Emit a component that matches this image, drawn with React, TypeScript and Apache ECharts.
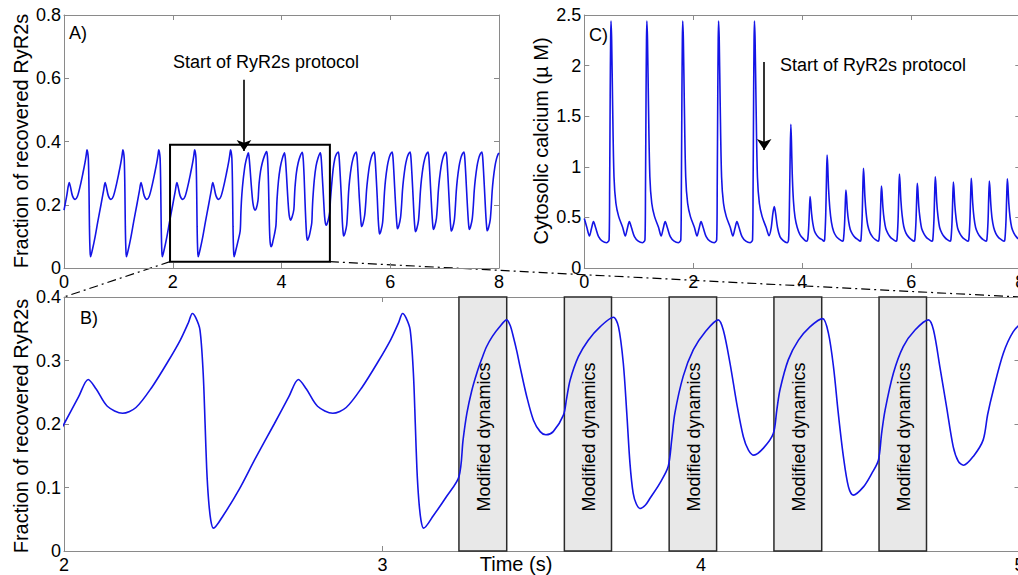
import React, { useEffect, useRef } from "react";
import * as echarts from "echarts";

// ---------------- DATA ----------------
// Fraction of recovered RyR2s, time (s) vs value, before the protocol starts
const ryr2BeforeProtocol: [number, number][] = [
  [0.0, 0.183], [0.05, 0.228],
  [0.096, 0.27], [0.121, 0.255], [0.156, 0.228], [0.204, 0.217], [0.246, 0.226], [0.296, 0.258], [0.346, 0.298], [0.386, 0.333], [0.411, 0.36], [0.423, 0.374], [0.434, 0.367], [0.447, 0.348], [0.457, 0.28], [0.463, 0.2], [0.468, 0.13], [0.474, 0.08], [0.481, 0.048], [0.489, 0.036], [0.52, 0.056], [0.57, 0.097], [0.62, 0.145], [0.68, 0.2], [0.726, 0.243],
  [0.756, 0.27], [0.781, 0.255], [0.816, 0.228], [0.864, 0.217], [0.906, 0.226], [0.956, 0.258], [1.006, 0.298], [1.046, 0.333], [1.071, 0.36], [1.083, 0.374], [1.094, 0.367], [1.107, 0.348], [1.117, 0.28], [1.123, 0.2], [1.128, 0.13], [1.134, 0.08], [1.141, 0.048], [1.149, 0.036], [1.18, 0.056], [1.23, 0.097], [1.28, 0.145], [1.34, 0.2], [1.386, 0.243],
  [1.416, 0.27], [1.441, 0.255], [1.476, 0.228], [1.524, 0.217], [1.566, 0.226], [1.616, 0.258], [1.666, 0.298], [1.706, 0.333], [1.731, 0.36], [1.743, 0.374], [1.754, 0.367], [1.767, 0.348], [1.777, 0.28], [1.783, 0.2], [1.788, 0.13], [1.794, 0.08], [1.801, 0.048], [1.809, 0.036], [1.84, 0.056], [1.89, 0.097], [1.94, 0.145], [2.0, 0.2], [2.046, 0.243],
  [2.076, 0.27], [2.101, 0.255], [2.136, 0.228], [2.184, 0.217], [2.226, 0.226], [2.276, 0.258], [2.326, 0.298], [2.366, 0.333], [2.391, 0.36], [2.403, 0.374], [2.414, 0.367], [2.427, 0.348], [2.437, 0.28], [2.443, 0.2], [2.448, 0.13], [2.454, 0.08], [2.461, 0.048], [2.469, 0.036], [2.5, 0.056], [2.55, 0.097], [2.6, 0.145], [2.66, 0.2], [2.706, 0.243],
  [2.736, 0.27], [2.761, 0.255], [2.796, 0.228], [2.844, 0.217], [2.886, 0.226], [2.936, 0.258], [2.986, 0.298], [3.026, 0.333], [3.051, 0.36], [3.063, 0.374], [3.074, 0.367], [3.087, 0.348], [3.097, 0.28], [3.103, 0.2], [3.108, 0.13], [3.114, 0.08], [3.121, 0.048], [3.129, 0.036], [3.16, 0.056], [3.2, 0.085], [3.24, 0.117],
];

// RyR2s while the modified dynamics windows are applied (shown in panel B)
const ryr2DuringProtocol: [number, number][] = [
  [3.253, 0.175], [3.265, 0.217], [3.28, 0.252], [3.296, 0.28], [3.312, 0.303], [3.327, 0.322], [3.345, 0.338], [3.366, 0.352], [3.39, 0.364], [3.401, 0.355], [3.411, 0.337], [3.422, 0.314], [3.432, 0.29], [3.453, 0.243], [3.474, 0.206], [3.495, 0.188], [3.513, 0.183], [3.536, 0.188], [3.568, 0.214],
  [3.578, 0.24], [3.589, 0.269], [3.615, 0.306], [3.646, 0.332], [3.683, 0.353], [3.725, 0.368], [3.741, 0.353], [3.756, 0.296], [3.767, 0.217], [3.777, 0.138], [3.787, 0.091], [3.797, 0.074], [3.809, 0.067], [3.825, 0.072], [3.84, 0.083], [3.871, 0.107], [3.897, 0.133],
  [3.908, 0.175], [3.918, 0.217], [3.944, 0.275], [3.976, 0.317], [4.013, 0.345], [4.054, 0.364], [4.07, 0.348], [4.091, 0.296], [4.112, 0.233], [4.133, 0.18], [4.149, 0.159], [4.166, 0.151], [4.196, 0.162], [4.227, 0.185],
  [4.238, 0.222], [4.248, 0.254], [4.274, 0.301], [4.306, 0.332], [4.342, 0.353], [4.382, 0.366], [4.4, 0.343], [4.416, 0.29], [4.431, 0.217], [4.447, 0.149], [4.463, 0.101], [4.478, 0.088], [4.51, 0.101], [4.536, 0.122], [4.557, 0.143],
  [4.567, 0.185], [4.578, 0.222], [4.604, 0.28], [4.635, 0.322], [4.672, 0.348], [4.714, 0.364], [4.73, 0.348], [4.75, 0.29], [4.771, 0.227], [4.792, 0.164], [4.808, 0.141], [4.824, 0.135], [4.855, 0.149], [4.886, 0.175], [4.9, 0.215], [4.918, 0.254], [4.949, 0.311], [4.98, 0.345], [5.01, 0.36], [5.044, 0.367],
];

// RyR2s in the new steady oscillation (panel A, right part)
const ryr2AfterProtocol: [number, number][] = [
  [5.06, 0.35], [5.08, 0.292], [5.101, 0.222], [5.119, 0.146], [5.134, 0.111], [5.144, 0.101], [5.169, 0.111], [5.199, 0.136], [5.219, 0.19], [5.234, 0.24], [5.254, 0.28], [5.284, 0.32], [5.314, 0.345], [5.344, 0.36], [5.374, 0.367],
  [5.39, 0.35], [5.41, 0.292], [5.431, 0.222], [5.449, 0.176], [5.464, 0.141], [5.474, 0.131], [5.499, 0.141], [5.529, 0.166], [5.549, 0.205], [5.564, 0.245], [5.584, 0.28], [5.614, 0.32], [5.644, 0.345], [5.674, 0.36], [5.704, 0.367],
  [5.72, 0.35], [5.74, 0.292], [5.761, 0.222], [5.779, 0.153], [5.794, 0.118], [5.804, 0.108], [5.829, 0.118], [5.859, 0.143], [5.879, 0.195], [5.894, 0.24], [5.914, 0.28], [5.944, 0.32], [5.974, 0.345], [6.004, 0.36], [6.034, 0.367],
  [6.05, 0.35], [6.07, 0.292], [6.091, 0.222], [6.109, 0.169], [6.124, 0.134], [6.134, 0.124], [6.159, 0.134], [6.189, 0.159], [6.209, 0.2], [6.224, 0.243], [6.244, 0.28], [6.274, 0.32], [6.304, 0.345], [6.334, 0.36], [6.364, 0.367],
  [6.38, 0.35], [6.4, 0.292], [6.421, 0.222], [6.439, 0.16], [6.454, 0.125], [6.464, 0.115], [6.489, 0.125], [6.519, 0.15], [6.539, 0.197], [6.554, 0.241], [6.574, 0.28], [6.604, 0.32], [6.634, 0.345], [6.664, 0.36], [6.694, 0.367],
  [6.71, 0.35], [6.73, 0.292], [6.751, 0.222], [6.769, 0.167], [6.784, 0.132], [6.794, 0.122], [6.819, 0.132], [6.849, 0.157], [6.869, 0.2], [6.884, 0.243], [6.904, 0.28], [6.934, 0.32], [6.964, 0.345], [6.994, 0.36], [7.024, 0.367],
  [7.04, 0.35], [7.06, 0.292], [7.081, 0.222], [7.099, 0.162], [7.114, 0.127], [7.124, 0.117], [7.149, 0.127], [7.179, 0.152], [7.199, 0.198], [7.214, 0.242], [7.234, 0.28], [7.264, 0.32], [7.294, 0.345], [7.324, 0.36], [7.354, 0.367],
  [7.37, 0.35], [7.39, 0.292], [7.411, 0.222], [7.429, 0.167], [7.444, 0.132], [7.454, 0.122], [7.479, 0.132], [7.509, 0.157], [7.529, 0.2], [7.544, 0.243], [7.564, 0.28], [7.594, 0.32], [7.624, 0.345], [7.654, 0.36], [7.684, 0.367],
  [7.7, 0.35], [7.72, 0.292], [7.741, 0.222], [7.759, 0.163], [7.774, 0.128], [7.784, 0.118], [7.809, 0.128], [7.839, 0.153], [7.859, 0.198], [7.874, 0.242], [7.894, 0.28], [7.924, 0.32], [7.954, 0.345], [7.984, 0.36], [8.0, 0.364],
];

// Cytosolic calcium (µM) before the protocol: large spikes with small bumps
const calciumBeforeProtocol: [number, number][] = [
  [0.0, 0.49], [0.047, 0.4], [0.094, 0.316], [0.132, 0.39], [0.168, 0.458], [0.207, 0.4], [0.262, 0.31], [0.332, 0.265], [0.412, 0.25],
  [0.455, 0.28], [0.465, 0.8], [0.475, 1.7], [0.483, 2.25], [0.49, 2.44], [0.502, 2.25], [0.52, 1.6], [0.545, 0.9], [0.58, 0.64], [0.63, 0.51], [0.705, 0.4], [0.752, 0.316], [0.79, 0.39], [0.826, 0.458], [0.865, 0.4], [0.92, 0.31], [0.99, 0.265], [1.07, 0.25],
  [1.113, 0.28], [1.123, 0.8], [1.133, 1.7], [1.141, 2.25], [1.148, 2.44], [1.16, 2.25], [1.178, 1.6], [1.203, 0.9], [1.238, 0.64], [1.288, 0.51], [1.363, 0.4], [1.41, 0.316], [1.448, 0.39], [1.484, 0.458], [1.523, 0.4], [1.578, 0.31], [1.648, 0.265], [1.728, 0.25],
  [1.771, 0.28], [1.781, 0.8], [1.791, 1.7], [1.799, 2.25], [1.806, 2.44], [1.818, 2.25], [1.836, 1.6], [1.861, 0.9], [1.896, 0.64], [1.946, 0.51], [2.021, 0.4], [2.068, 0.316], [2.106, 0.39], [2.142, 0.458], [2.181, 0.4], [2.236, 0.31], [2.306, 0.265], [2.386, 0.25],
  [2.429, 0.28], [2.439, 0.8], [2.449, 1.7], [2.457, 2.25], [2.464, 2.44], [2.476, 2.25], [2.494, 1.6], [2.519, 0.9], [2.554, 0.64], [2.604, 0.51], [2.679, 0.4], [2.726, 0.316], [2.764, 0.39], [2.8, 0.458], [2.839, 0.4], [2.894, 0.31], [2.964, 0.265], [3.044, 0.25],
  [3.087, 0.28], [3.097, 0.8], [3.107, 1.7], [3.115, 2.25], [3.122, 2.44], [3.134, 2.25], [3.152, 1.6], [3.177, 0.9], [3.212, 0.64], [3.262, 0.51],
];

// Calcium in the transition right after the protocol starts
const calciumTransition: [number, number][] = [
  [3.337, 0.4], [3.39, 0.32], [3.43, 0.4], [3.46, 0.54], [3.486, 0.606], [3.51, 0.54], [3.545, 0.4], [3.59, 0.31], [3.65, 0.27], [3.72, 0.25], [3.748, 0.28],
  [3.764, 0.62], [3.777, 1.1], [3.79, 1.42], [3.801, 1.25], [3.816, 0.92], [3.838, 0.66], [3.867, 0.5], [3.907, 0.4], [3.957, 0.33], [4.017, 0.29], [4.075, 0.265],
];

// Calcium in the new rhythm (alternating peak heights)
const calciumAfterProtocol: [number, number][] = [
  [4.098, 0.28], [4.118, 0.41], [4.131, 0.58], [4.143, 0.705], [4.154, 0.65], [4.17, 0.54], [4.193, 0.44], [4.223, 0.365], [4.263, 0.325], [4.313, 0.295], [4.363, 0.28], [4.395, 0.265],
  [4.41, 0.28], [4.43, 0.53], [4.443, 0.87], [4.455, 1.117], [4.466, 1.02], [4.482, 0.78], [4.505, 0.59], [4.535, 0.45], [4.575, 0.36], [4.625, 0.31], [4.675, 0.285], [4.74, 0.265],
  [4.755, 0.28], [4.775, 0.43], [4.788, 0.62], [4.8, 0.771], [4.811, 0.71], [4.827, 0.57], [4.85, 0.46], [4.88, 0.38], [4.92, 0.335], [4.97, 0.3], [5.02, 0.28], [5.062, 0.265],
  [5.077, 0.28], [5.097, 0.49], [5.11, 0.77], [5.122, 0.985], [5.133, 0.9], [5.149, 0.7], [5.172, 0.54], [5.202, 0.42], [5.242, 0.35], [5.292, 0.305], [5.342, 0.28], [5.392, 0.265],
  [5.407, 0.28], [5.427, 0.44], [5.44, 0.65], [5.452, 0.81], [5.463, 0.75], [5.479, 0.6], [5.502, 0.48], [5.532, 0.39], [5.572, 0.34], [5.622, 0.3], [5.672, 0.28], [5.722, 0.265],
  [5.737, 0.28], [5.757, 0.47], [5.77, 0.73], [5.782, 0.929], [5.793, 0.85], [5.809, 0.67], [5.832, 0.52], [5.862, 0.41], [5.902, 0.345], [5.952, 0.305], [6.002, 0.28], [6.05, 0.265],
  [6.065, 0.28], [6.085, 0.45], [6.098, 0.67], [6.11, 0.837], [6.121, 0.77], [6.137, 0.61], [6.16, 0.49], [6.19, 0.39], [6.23, 0.34], [6.28, 0.3], [6.33, 0.28], [6.38, 0.265],
  [6.395, 0.28], [6.415, 0.47], [6.428, 0.72], [6.44, 0.902], [6.451, 0.83], [6.467, 0.65], [6.49, 0.51], [6.52, 0.4], [6.56, 0.345], [6.61, 0.305], [6.66, 0.28], [6.712, 0.265],
  [6.727, 0.28], [6.747, 0.45], [6.76, 0.68], [6.772, 0.85], [6.783, 0.78], [6.799, 0.62], [6.822, 0.49], [6.852, 0.39], [6.892, 0.34], [6.942, 0.3], [6.992, 0.28], [7.04, 0.265],
  [7.055, 0.28], [7.075, 0.46], [7.088, 0.7], [7.1, 0.886], [7.111, 0.81], [7.127, 0.64], [7.15, 0.5], [7.18, 0.4], [7.22, 0.345], [7.27, 0.305], [7.32, 0.28], [7.372, 0.265],
  [7.387, 0.28], [7.407, 0.45], [7.42, 0.69], [7.432, 0.86], [7.443, 0.79], [7.459, 0.63], [7.482, 0.49], [7.512, 0.4], [7.552, 0.34], [7.602, 0.3], [7.652, 0.28], [7.702, 0.265],
  [7.717, 0.28], [7.737, 0.46], [7.75, 0.7], [7.762, 0.882], [7.773, 0.81], [7.789, 0.64], [7.812, 0.5], [7.842, 0.4], [7.882, 0.345], [7.932, 0.305], [7.982, 0.28], [8.0, 0.275],
];

// "Modified dynamics" windows in panel B [start, end] (s)
const modifiedWindows: [number, number][] = [
  [3.24, 3.39], [3.571, 3.719], [3.9, 4.049], [4.229, 4.379], [4.559, 4.708],
];

// zoom box drawn in panel A: [x0, x1, y0, y1]
const zoomBox: number[] = [1.95, 4.89, 0.02, 0.39];

// protocol-start arrows [time, fromValue, toValue]
const arrowA: number[] = [3.31, 0.595, 0.37];
const arrowC: number[] = [3.3, 2.035, 1.166];

// axis ranges / ticks
const axisA = { xMin: 0, xMax: 8, xStep: 2, yMin: 0, yMax: 0.8, yStep: 0.2 };
const axisB = { xMin: 2, xMax: 5, xStep: 1, yMin: 0, yMax: 0.4, yStep: 0.1 };
const axisC = { xMin: 0, xMax: 8, xStep: 2, yMin: 0, yMax: 2.5, yStep: 0.5 };

const ryr2Series = [...ryr2BeforeProtocol, ...ryr2DuringProtocol, ...ryr2AfterProtocol];
const calciumSeries = [...calciumBeforeProtocol, ...calciumTransition, ...calciumAfterProtocol];

// ---------------- STYLE ----------------
const FONT = "'Liberation Sans', Arial, Helvetica, sans-serif";
const FRAME = "#8a8a8a";
const BLUE = "#1414e6";

function xAx(gridIndex: number, ax: any, position: "bottom" | "top") {
  return {
    type: "value",
    gridIndex,
    position,
    min: ax.xMin,
    max: ax.xMax,
    interval: ax.xStep,
    axisLine: { show: true, onZero: false, lineStyle: { color: FRAME, width: 1 } },
    axisTick: { show: true, inside: true, length: 5, lineStyle: { color: FRAME } },
    axisLabel: {
      show: position === "bottom",
      color: "#000",
      fontSize: 18,
      fontFamily: FONT,
      margin: 5,
    },
    splitLine: { show: false },
  };
}
function yAx(gridIndex: number, ax: any, position: "left" | "right") {
  return {
    type: "value",
    gridIndex,
    position,
    min: ax.yMin,
    max: ax.yMax,
    interval: ax.yStep,
    axisLine: { show: true, onZero: false, lineStyle: { color: FRAME, width: 1 } },
    axisTick: { show: true, inside: true, length: 5, lineStyle: { color: FRAME } },
    axisLabel: {
      show: position === "left",
      color: "#000",
      fontSize: 18,
      fontFamily: FONT,
      margin: 3,
    },
    splitLine: { show: false },
  };
}

function txt(text: string, x: number, y: number, size: number, align = "left", rot = 0) {
  return {
    type: "text",
    x,
    y,
    rotation: rot,
    z: 50,
    silent: true,
    style: {
      text,
      fill: "#000",
      font: `${size}px ${FONT}`,
      textAlign: align,
      textVerticalAlign: "middle",
      align,
      verticalAlign: "middle",
    },
  };
}

function arrowLine(a: number[]) {
  return {
    silent: true,
    symbol: ["none", "arrow"],
    symbolSize: 11,
    label: { show: false },
    lineStyle: { color: "#000", width: 1.6, type: "solid" },
    animation: false,
    data: [[{ coord: [a[0], a[1]] }, { coord: [a[0], a[2]] }]],
  };
}

export default function App() {
  const ref = useRef<HTMLDivElement>(null);
  useEffect(() => {
    if (!ref.current) return;
    const chart = echarts.init(ref.current, undefined, { renderer: "svg" });
    const option: any = {
      animation: false,
      backgroundColor: "#fff",
      grid: [
        { left: 64, top: 15, width: 435, height: 253, outerBoundsMode: "none", containLabel: false },
        { left: 64, top: 297, width: 955.5, height: 254, outerBoundsMode: "none", containLabel: false },
        { left: 584.3, top: 15, width: 436, height: 253, outerBoundsMode: "none", containLabel: false },
      ],
      xAxis: [
        xAx(0, axisA, "bottom"),
        xAx(0, axisA, "top"),
        xAx(1, axisB, "bottom"),
        xAx(1, axisB, "top"),
        xAx(2, axisC, "bottom"),
        xAx(2, axisC, "top"),
      ],
      yAxis: [
        yAx(0, axisA, "left"),
        yAx(0, axisA, "right"),
        yAx(1, axisB, "left"),
        yAx(1, axisB, "right"),
        yAx(2, axisC, "left"),
        yAx(2, axisC, "right"),
      ],
      series: [
        {
          type: "custom",
          xAxisIndex: 0,
          yAxisIndex: 0,
          z: 4,
          silent: true,
          data: [zoomBox],
          renderItem: (params: any, api: any) => {
            const p0 = api.coord([api.value(0), api.value(3)]);
            const p1 = api.coord([api.value(1), api.value(2)]);
            return {
              type: "rect",
              shape: { x: p0[0], y: p0[1], width: p1[0] - p0[0], height: p1[1] - p0[1] },
              style: { fill: "none", stroke: "#000", lineWidth: 2 },
            };
          },
        },
        {
          type: "line",
          xAxisIndex: 0,
          yAxisIndex: 0,
          z: 3,
          data: ryr2Series,
          showSymbol: false,
          smooth: 0.3,
          lineStyle: { color: BLUE, width: 1.6 },
          markLine: arrowLine(arrowA),
        },
        {
          type: "custom",
          xAxisIndex: 2,
          yAxisIndex: 2,
          z: 1,
          silent: true,
          data: modifiedWindows,
          renderItem: (params: any, api: any) => {
            const s = api.coord([api.value(0), 0]);
            const e = api.coord([api.value(1), 0]);
            const cs = params.coordSys;
            return {
              type: "group",
              children: [
                {
                  type: "rect",
                  shape: { x: s[0], y: cs.y, width: e[0] - s[0], height: cs.height },
                  style: { fill: "#e8e8e8", stroke: "#2a2a2a", lineWidth: 1.5 },
                },
                {
                  type: "text",
                  x: (s[0] + e[0]) / 2 + 1,
                  y: cs.y + cs.height * 0.551,
                  rotation: Math.PI / 2,
                  style: {
                    text: "Modified dynamics",
                    fill: "#000",
                    font: `18px ${FONT}`,
                    textAlign: "center",
                    textVerticalAlign: "middle",
                    align: "center",
                    verticalAlign: "middle",
                  },
                },
              ],
            };
          },
        },
        {
          type: "line",
          xAxisIndex: 2,
          yAxisIndex: 2,
          z: 3,
          data: ryr2Series,
          showSymbol: false,
          smooth: 0.3,
          lineStyle: { color: BLUE, width: 1.6 },
        },
        {
          type: "line",
          xAxisIndex: 4,
          yAxisIndex: 4,
          z: 3,
          data: calciumSeries,
          showSymbol: false,
          smooth: 0.3,
          lineStyle: { color: BLUE, width: 1.6 },
          markLine: arrowLine(arrowC),
        },
      ],
    };
    chart.setOption(option);

    const a0 = chart.convertToPixel({ seriesIndex: 1 }, [zoomBox[0], zoomBox[2]]) as number[];
    const a1 = chart.convertToPixel({ seriesIndex: 1 }, [zoomBox[1], zoomBox[2]]) as number[];
    const b0 = chart.convertToPixel({ seriesIndex: 3 }, [axisB.xMin, axisB.yMax]) as number[];
    const b1 = chart.convertToPixel({ seriesIndex: 3 }, [axisB.xMax, axisB.yMax]) as number[];
    const dash = { stroke: "#000", lineWidth: 1.2, lineDash: [9, 4, 2, 4] };

    chart.setOption({
      graphic: [
        { type: "line", z: 0, silent: true, shape: { x1: a0[0], y1: a0[1], x2: b0[0], y2: b0[1] }, style: dash },
        { type: "line", z: 0, silent: true, shape: { x1: a1[0], y1: a1[1], x2: b1[0], y2: b1[1] }, style: dash },
        txt("A)", 69, 33, 18),
        txt("B)", 80, 318, 18),
        txt("C)", 589, 35, 18),
        txt("Start of RyR2s protocol", 173, 62, 18),
        txt("Start of RyR2s protocol", 780, 65, 18),
        txt("Fraction of recovered RyR2s", 21, 141, 20, "center", Math.PI / 2),
        txt("Fraction of recovered RyR2s", 21, 426, 20, "center", Math.PI / 2),
        txt("Cytosolic calcium (\u00b5 M)", 541, 141, 20, "center", Math.PI / 2),
        txt("Time (s)", 516, 564, 20, "center"),
      ],
    });

    return () => chart.dispose();
  }, []);
  return (
    <div
      ref={ref}
      style={{ position: "absolute", left: 0, top: 0, width: 1018, height: 575, background: "#fff" }}
    />
  );
}
